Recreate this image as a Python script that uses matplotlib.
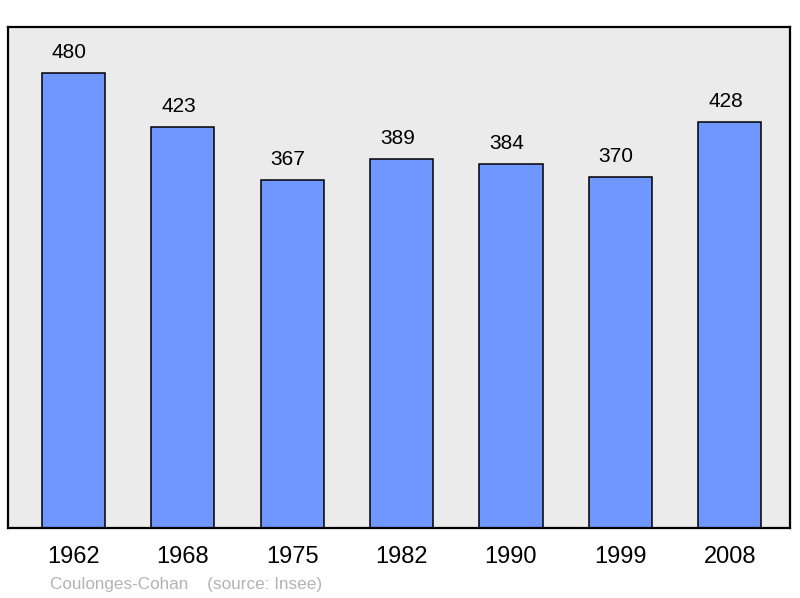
import matplotlib.pyplot as plt
import numpy as np

years = ["1962", "1968", "1975", "1982", "1990", "1999", "2008"]
population = [480, 423, 367, 389, 384, 370, 428]
place = "Coulonges-Cohan"
source = "(source: Insee)"

plt.rcParams['font.family'] = ['Liberation Sans', 'DejaVu Sans']

fig = plt.figure(figsize=(8, 5.98), dpi=100)
ax = fig.add_axes([8.3 / 800, 1 - 528.3 / 598, (790 - 8.3) / 800, (528.3 - 26.7) / 598])
ax.set_facecolor('#ebebeb')

ind = np.arange(len(years))
bars = ax.bar(ind, population, 0.578, color='#7096ff', edgecolor='black', linewidth=1.1)

ax.set_xlim(-0.594, 6.55)
ax.set_ylim(0, 528.5)

# value labels above the bars (sit a little left of centre, as in the original)
for rect, val in zip(bars, population):
    ax.annotate('%d' % val, xy=(rect.get_x() + rect.get_width() / 2, rect.get_height()),
                xytext=(-3, 10.6), textcoords='offset points',
                ha='center', va='baseline', fontsize=15)

ax.set_xticks(ind)
ax.set_xticklabels(years, fontsize=17)
ax.tick_params(axis='x', length=0, pad=13)
ax.set_yticks([])

for sp in ax.spines.values():
    sp.set_linewidth(1.6)
    sp.set_color('black')

fig.text(50 / 800, 1 - 589 / 598, place + "    " + source, color='#b3b3b3',
         fontsize=12.3, va='baseline', ha='left')

fig.savefig('out.png', dpi=100)
